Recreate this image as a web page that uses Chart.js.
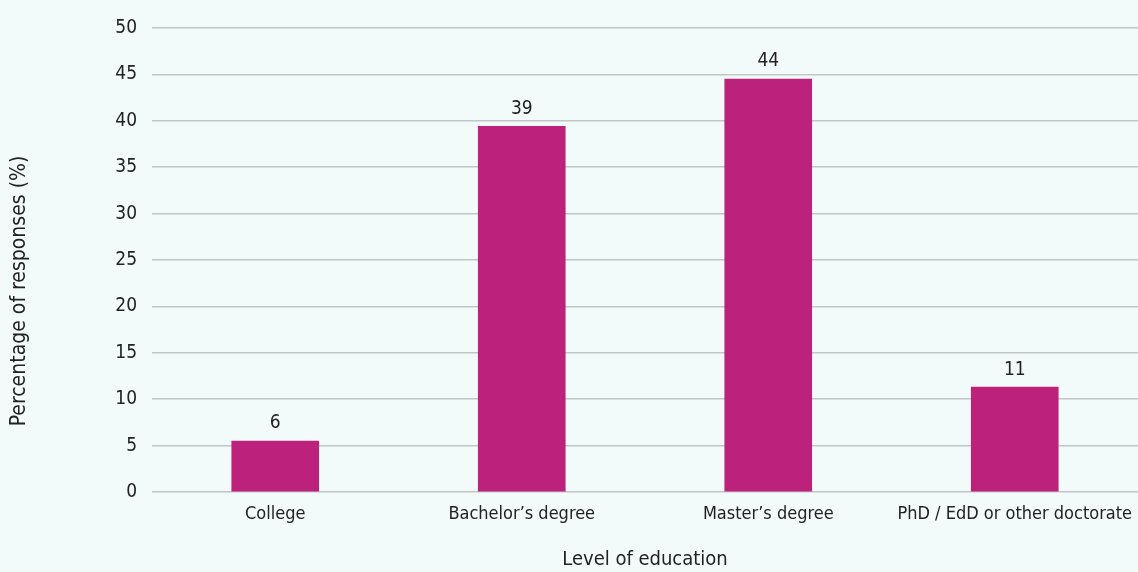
<!DOCTYPE html>
<html><head><meta charset="utf-8">
<script src="https://cdn.jsdelivr.net/npm/chart.js@4"></script>
<style>
html,body{margin:0;padding:0;background:#f3fbfa;}
#wrap{width:1138px;height:572px;position:relative;}
</style></head>
<body><div id="wrap"><canvas id="c" width="1138" height="572"></canvas></div>
<script>
const categories = ["College", "Bachelor\u2019s degree", "Master\u2019s degree", "PhD / EdD or other doctorate"];
const values = [5.5, 39.4, 44.5, 11.3];
const valueLabels = ["6", "39", "44", "11"];
const yTicks = [0, 5, 10, 15, 20, 25, 30, 35, 40, 45, 50];
const yTitle = 'Percentage of responses (%)';
const xTitle = 'Level of education';

const FONT = "'DejaVu Sans Condensed','Roboto',sans-serif";
const TXT = '#222222';

const labelPlugin = {
  id: 'valueLabels',
  afterDatasetsDraw(chart) {
    const ctx = chart.ctx;
    const meta = chart.getDatasetMeta(0);
    ctx.save();
    ctx.font = '19px ' + FONT;
    ctx.fillStyle = TXT;
    ctx.textAlign = 'center';
    ctx.textBaseline = 'bottom';
    meta.data.forEach((bar, i) => {
      ctx.fillText(valueLabels[i], bar.x, bar.y - 8);
    });
    ctx.save();
    ctx.translate(20, 291);
    ctx.rotate(-Math.PI / 2);
    ctx.font = '21px ' + FONT;
    ctx.textBaseline = 'middle';
    ctx.fillText(yTitle, 0, 0);
    ctx.restore();
    ctx.restore();
  }
};

new Chart(document.getElementById('c'), {
  type: 'bar',
  data: {
    labels: categories,
    datasets: [{ data: values, backgroundColor: '#bc217c', barThickness: 87 }]
  },
  options: {
    responsive: false,
    animation: false,
    devicePixelRatio: 1,
    layout: { padding: { top: 28, right: 0, left: 0, bottom: 0 } },
    plugins: { legend: { display: false }, tooltip: { enabled: false } },
    scales: {
      x: {
        grid: { display: false, drawTicks: false },
        border: { display: false },
        ticks: { color: TXT, font: { family: FONT, size: 18 }, padding: 12, maxRotation: 0, autoSkip: false },
        title: { display: true, text: xTitle, color: TXT, font: { family: FONT, size: 20 }, padding: { top: 14, bottom: 0 } },
        afterFit(s) { s.height = 80; s.paddingLeft = 0; s.paddingRight = 0; }
      },
      y: {
        min: 0, max: 50,
        afterBuildTicks(s) { s.ticks = yTicks.map(v => ({ value: v })); },
        grid: { color: '#c2c6c6', lineWidth: 1.5, drawTicks: false },
        border: { display: false },
        ticks: { color: TXT, font: { family: FONT, size: 19 }, padding: 15 },
        afterFit(s) { s.width = 152; s.paddingTop = 0; s.paddingBottom = 0; }
      }
    }
  },
  plugins: [labelPlugin, {
    id: 'bg',
    beforeDraw(chart) {
      const c = chart.ctx; c.save(); c.fillStyle = '#f3fbfa'; c.fillRect(0, 0, chart.width, chart.height); c.restore();
    }
  }]
});
</script></body></html>
